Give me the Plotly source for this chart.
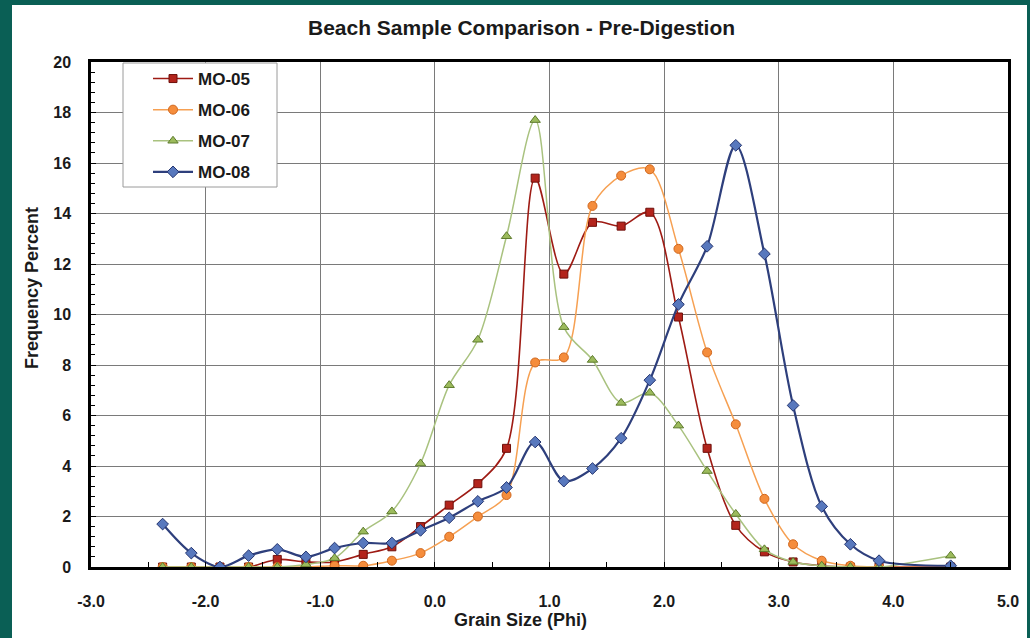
import plotly.graph_objects as go

phi = [-2.375, -2.125, -1.875, -1.625, -1.375, -1.125, -0.875, -0.625, -0.375, -0.125,
       0.125, 0.375, 0.625, 0.875, 1.125, 1.375, 1.625, 1.875, 2.125, 2.375,
       2.625, 2.875, 3.125, 3.375, 3.625, 3.875, 4.5]

mo05 = [0.0, 0.0, 0.0, 0.0, 0.3, 0.2, 0.2, 0.5, 0.8, 1.6,
        2.45, 3.3, 4.7, 15.4, 11.6, 13.65, 13.5, 14.05, 9.9, 4.7,
        1.65, 0.6, 0.2, 0.05, 0.0, 0.0, 0.0]
mo06 = [0.0, 0.0, 0.0, 0.0, 0.0, 0.0, 0.05, 0.05, 0.25, 0.55,
        1.2, 2.0, 2.85, 8.1, 8.3, 14.3, 15.5, 15.75, 12.6, 8.5,
        5.65, 2.7, 0.9, 0.25, 0.05, 0.0, 0.0]
mo07 = [0.0, 0.0, 0.0, 0.0, 0.0, 0.1, 0.35, 1.4, 2.2, 4.1,
        7.2, 9.0, 13.1, 17.7, 9.5, 8.2, 6.5, 6.9, 5.6, 3.8,
        2.1, 0.7, 0.2, 0.05, 0.0, 0.0, 0.45]
mo08 = [1.7, 0.55, 0.0, 0.45, 0.7, 0.4, 0.75, 0.95, 0.95, 1.45,
        1.95, 2.6, 3.15, 4.95, 3.4, 3.9, 5.1, 7.4, 10.4, 12.7,
        16.7, 12.4, 6.4, 2.4, 0.9, 0.25, 0.05]

names = ["MO-05", "MO-06", "MO-07", "MO-08"]
series = [mo05, mo06, mo07, mo08]

x_tick_vals = [-3, -2, -1, 0, 1, 2, 3, 4, 5]
x_tick_text = ["-3.0", "-2.0", "-1.0", "0.0", "1.0", "2.0", "3.0", "4.0", "5.0"]
y_tick_vals = [0, 2, 4, 6, 8, 10, 12, 14, 16, 18, 20]

styles = [
    dict(line="#9e1b14", lw=1.6, sym="square", size=8, fill="#b3241c", edge="#6e0f0a"),
    dict(line="#f6a052", lw=1.5, sym="circle", size=9, fill="#f58d3c", edge="#d0661c"),
    dict(line="#a9c27f", lw=1.5, sym="triangle-up", size=9, fill="#9cbb5c", edge="#5d7a2c"),
    dict(line="#2e3f7c", lw=2.2, sym="diamond", size=9, fill="#5878bd", edge="#253570"),
]

FONT = "Liberation Sans, Arial, sans-serif"
TEAL = "#0a5f55"

fig = go.Figure()
for name, ys, st in zip(names, series, styles):
    fig.add_trace(go.Scatter(
        x=phi, y=ys, name=name, mode="lines+markers",
        legendgroup=name,
        line=dict(color=st["line"], width=st["lw"], shape="spline", smoothing=0.9),
        marker=dict(symbol=st["sym"], size=st["size"], color=st["fill"],
                    line=dict(color=st["edge"], width=1)),
    ))

L, R, T, B = 91, 22, 62, 71
W, H = 1030, 638
pw = W - L - R
ph = H - T - B

def px_x(p):
    return (p - L) / pw

def px_y(p):
    return (H - B - p) / ph

shapes = [
    # white panel on teal background
    dict(type="rect", xref="paper", yref="paper", layer="below",
         x0=px_x(12), x1=px_x(1027), y0=px_y(645), y1=px_y(5),
         fillcolor="white", line=dict(width=0)),
    # legend box
    dict(type="rect", xref="paper", yref="paper", layer="above",
         x0=px_x(123), x1=px_x(277), y0=px_y(187), y1=px_y(63),
         fillcolor="white", line=dict(color="#9a9a9a", width=1)),
]

fig.update_layout(
    width=W, height=H,
    margin=dict(l=L, r=R, t=T, b=B, pad=0),
    paper_bgcolor=TEAL,
    plot_bgcolor="rgba(0,0,0,0)",
    font=dict(family=FONT, color="#1a1a1a"),
    shapes=shapes,
    showlegend=True,
    legend=dict(
        x=px_x(148), y=px_y(61), xanchor="left", yanchor="top",
        bgcolor="rgba(0,0,0,0)", borderwidth=0,
        font=dict(family=FONT, size=17, color="#1a1a1a", weight="bold"),
        tracegroupgap=6, itemwidth=40,
    ),
    annotations=[
        dict(text="<b>Beach Sample Comparison - Pre-Digestion</b>",
             xref="paper", yref="paper", x=px_x(521), y=px_y(28),
             xanchor="center", yanchor="middle", showarrow=False,
             font=dict(family=FONT, size=21, color="#1a1a1a")),
        dict(text="<b>Grain Size (Phi)</b>",
             xref="paper", yref="paper", x=px_x(520), y=px_y(620),
             xanchor="center", yanchor="middle", showarrow=False,
             font=dict(family=FONT, size=18, color="#1a1a1a")),
        dict(text="<b>Frequency Percent</b>", textangle=-90,
             xref="paper", yref="paper", x=px_x(32), y=px_y(288),
             xanchor="center", yanchor="middle", showarrow=False,
             font=dict(family=FONT, size=18, color="#1a1a1a")),
    ],
)

fig.update_xaxes(
    range=[-3, 5], tickmode="array", tickvals=x_tick_vals, ticktext=x_tick_text,
    showgrid=True, gridcolor="#7a7a7a", gridwidth=1,
    showline=True, linecolor="black", linewidth=2.5, mirror=True,
    ticks="inside", ticklen=5, tickcolor="black",
    minor=dict(dtick=0.5, tick0=0, ticks="inside", ticklen=5, tickcolor="black", showgrid=False),
    tickfont=dict(family=FONT, size=16, color="#1a1a1a", weight="bold"),
    ticklabelstandoff=18, zeroline=False,
)
fig.update_yaxes(
    range=[0, 20], tickmode="array", tickvals=y_tick_vals,
    showgrid=True, gridcolor="#7a7a7a", gridwidth=1,
    showline=True, linecolor="black", linewidth=2.5, mirror=True,
    ticks="inside", ticklen=5, tickcolor="black",
    minor=dict(dtick=0.4, tick0=0, ticks="inside", ticklen=4, tickcolor="black", showgrid=False),
    tickfont=dict(family=FONT, size=16, color="#1a1a1a", weight="bold"),
    ticklabelstandoff=14, zeroline=False,
)

fig.write_html(
    "out.html",
    config={"displayModeBar": False},
    post_script="document.body.style.margin='0';document.body.style.background='" + TEAL + "';",
)
